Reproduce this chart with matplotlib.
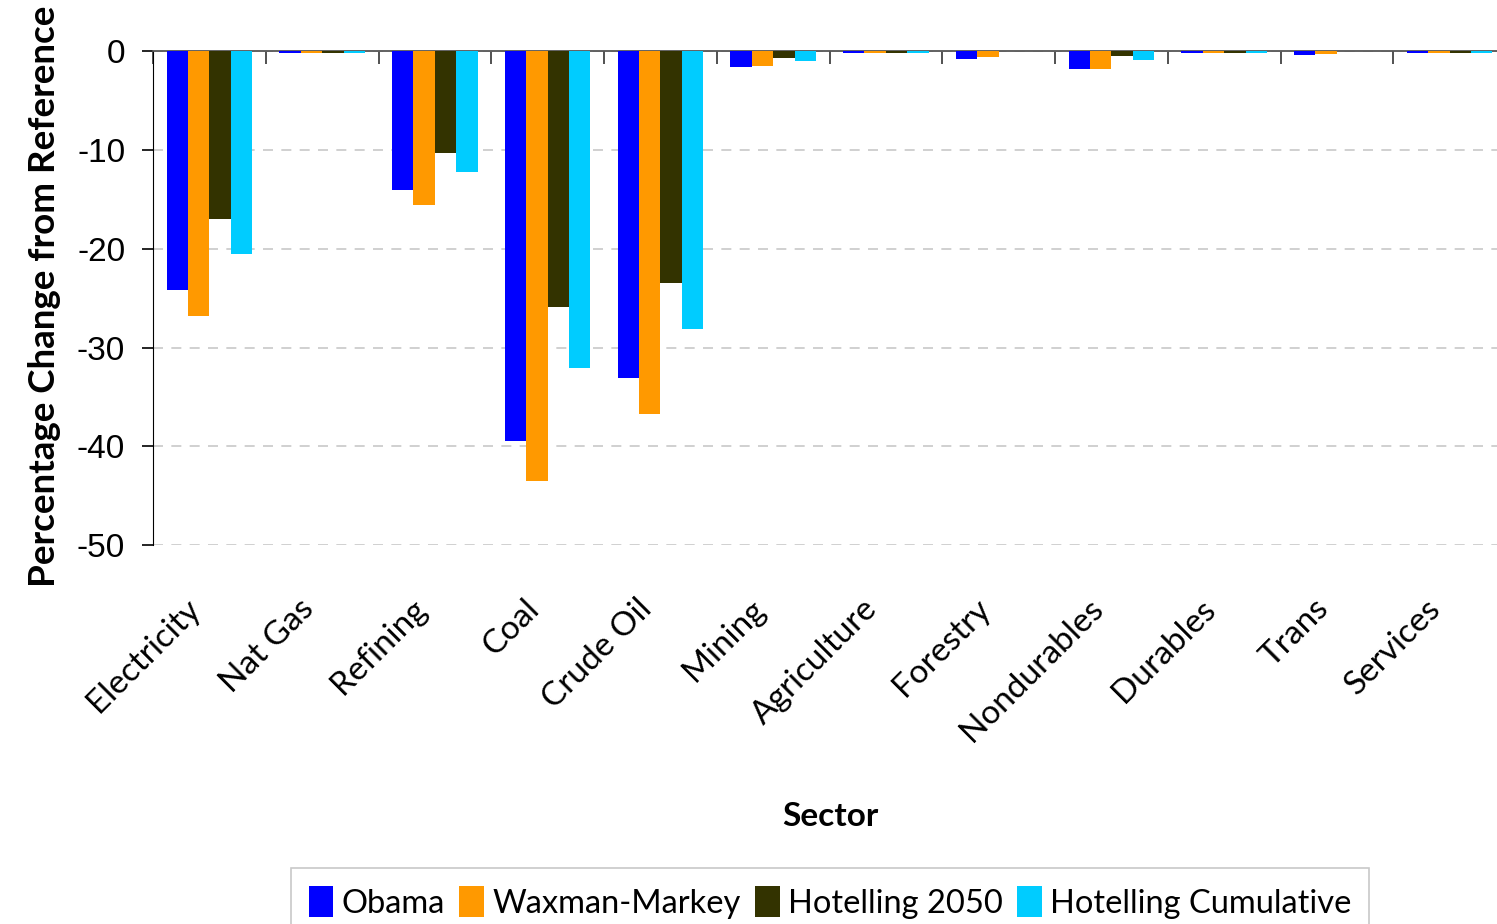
import numpy as np
import matplotlib
matplotlib.use("Agg")
import matplotlib.pyplot as plt
from matplotlib.transforms import ScaledTranslation

plt.rcParams['font.family'] = ['Lato', 'DejaVu Sans']
plt.rcParams['axes.unicode_minus'] = False

sectors = ["Electricity", "Nat Gas", "Refining", "Coal", "Crude Oil", "Mining",
           "Agriculture", "Forestry", "Nondurables", "Durables", "Trans", "Services"]

obama = [-24.2, -0.2, -14.0, -39.5, -33.1, -1.6, -0.2, -0.75, -1.8, -0.2, -0.35, -0.2]
waxman_markey = [-26.8, -0.2, -15.6, -43.5, -36.7, -1.5, -0.15, -0.6, -1.75, -0.2, -0.3, -0.15]
hotelling_2050 = [-17.0, -0.2, -10.3, -25.9, -23.5, -0.7, -0.15, 0.0, -0.45, -0.15, 0.0, -0.15]
hotelling_cum = [-20.5, -0.2, -12.2, -32.1, -28.1, -1.0, -0.15, 0.0, -0.85, -0.2, 0.0, -0.2]

series = [("Obama", obama, "#0000FF"),
          ("Waxman-Markey", waxman_markey, "#FF9900"),
          ("Hotelling 2050", hotelling_2050, "#333300"),
          ("Hotelling Cumulative", hotelling_cum, "#00CCFF")]

fig = plt.figure(figsize=(14.97, 9.24), dpi=100)
ax = fig.add_axes([153 / 1497, 1 - 545 / 924, 1353 / 1497, (545 - 51.3) / 924])

x = np.arange(len(sectors))
w = 0.19
for i, (name, vals, col) in enumerate(series):
    ax.bar(x + (i - 1.5) * w, vals, w, color=col, label=name, zorder=3)

ax.set_xlim(-0.5, len(sectors) - 0.5)
ax.set_ylim(-50, 0)
ax.set_yticks(np.arange(-50, 1, 10))
ax.yaxis.grid(True, color="#c8c8c8", linestyle=(0, (6, 5)), linewidth=1.2, zorder=0)

for s in ["right", "bottom"]:
    ax.spines[s].set_visible(False)
ax.spines["left"].set_color("black")
ax.spines["top"].set_color("#555555")
ax.spines["top"].set_linewidth(1.3)

# category boundary ticks hang off the zero line
ax.set_xticks(np.arange(-0.5, len(sectors)), minor=True)
ax.tick_params(axis="x", which="minor", top=True, bottom=False, direction="in",
               length=9, width=1.2, color="#333333")
ax.set_xticks(x)
ax.set_xticklabels(sectors, rotation=45, ha="right", rotation_mode="anchor", fontsize=24)
ax.tick_params(axis="x", which="major", length=0, pad=35)
for lab in ax.get_xticklabels():
    lab.set_transform(lab.get_transform() + ScaledTranslation(-0.24, 0, fig.dpi_scale_trans))

ax.tick_params(axis="y", length=8, width=1.2, pad=12, labelsize=24)
for lab in ax.get_yticklabels():
    lab.set_fontfamily(['Liberation Sans', 'DejaVu Sans'])

fig.text(0.030, 1 - 296 / 924, "Percentage Change from Reference", rotation=90,
         ha="center", va="center", fontsize=26.5, fontweight="bold")
fig.text(830 / 1497, 1 - 816 / 924, "Sector", ha="center", va="center",
         fontsize=24, fontweight="bold")

leg = fig.legend(loc="upper center", bbox_to_anchor=(830 / 1497, 1 - 868 / 924), ncol=4,
                 fontsize=23.5, frameon=True, fancybox=False, edgecolor="#bbbbbb",
                 handlelength=0.75, handleheight=1.1, handletextpad=0.25,
                 columnspacing=0.45, borderpad=0.55, borderaxespad=0)
leg.get_frame().set_linewidth(1.2)

fig.savefig("out.png", dpi=100)
